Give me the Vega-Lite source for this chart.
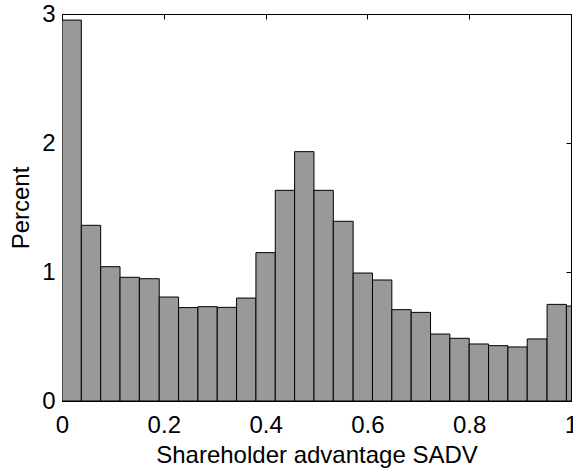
{
  "$schema": "https://vega.github.io/schema/vega-lite/v6.json",
  "width": 509,
  "height": 387,
  "autosize": "none",
  "padding": {"left": 62, "top": 14, "right": 2, "bottom": 71},
  "background": "white",
  "config": {
    "view": {"stroke": null},
    "axis": {
      "grid": false,
      "domainColor": "black",
      "tickColor": "black",
      "labelColor": "black",
      "titleColor": "black",
      "labelFont": "Liberation Sans",
      "titleFont": "Liberation Sans",
      "labelFontSize": 24,
      "titleFontSize": 24,
      "titleFontWeight": "normal",
      "tickSize": -5,
      "labelFlush": false,
      "labelOverlap": false
    }
  },
  "data": {
    "values": [
      {"bin_start": 0.000, "bin_end": 0.038, "percent": 2.953},
      {"bin_start": 0.038, "bin_end": 0.076, "percent": 1.362},
      {"bin_start": 0.076, "bin_end": 0.114, "percent": 1.041},
      {"bin_start": 0.114, "bin_end": 0.152, "percent": 0.959},
      {"bin_start": 0.152, "bin_end": 0.191, "percent": 0.948},
      {"bin_start": 0.191, "bin_end": 0.229, "percent": 0.806},
      {"bin_start": 0.229, "bin_end": 0.267, "percent": 0.724},
      {"bin_start": 0.267, "bin_end": 0.305, "percent": 0.731},
      {"bin_start": 0.305, "bin_end": 0.343, "percent": 0.726},
      {"bin_start": 0.343, "bin_end": 0.381, "percent": 0.798},
      {"bin_start": 0.381, "bin_end": 0.419, "percent": 1.150},
      {"bin_start": 0.419, "bin_end": 0.457, "percent": 1.633},
      {"bin_start": 0.457, "bin_end": 0.495, "percent": 1.933},
      {"bin_start": 0.495, "bin_end": 0.533, "percent": 1.633},
      {"bin_start": 0.533, "bin_end": 0.572, "percent": 1.393},
      {"bin_start": 0.572, "bin_end": 0.610, "percent": 0.992},
      {"bin_start": 0.610, "bin_end": 0.648, "percent": 0.938},
      {"bin_start": 0.648, "bin_end": 0.686, "percent": 0.708},
      {"bin_start": 0.686, "bin_end": 0.724, "percent": 0.687},
      {"bin_start": 0.724, "bin_end": 0.762, "percent": 0.519},
      {"bin_start": 0.762, "bin_end": 0.800, "percent": 0.486},
      {"bin_start": 0.800, "bin_end": 0.838, "percent": 0.442},
      {"bin_start": 0.838, "bin_end": 0.876, "percent": 0.429},
      {"bin_start": 0.876, "bin_end": 0.914, "percent": 0.419},
      {"bin_start": 0.914, "bin_end": 0.953, "percent": 0.481},
      {"bin_start": 0.953, "bin_end": 0.991, "percent": 0.749},
      {"bin_start": 0.991, "bin_end": 1.029, "percent": 0.736}
    ]
  },
  "layer": [
    {
      "mark": {"type": "bar", "fill": "#999999", "stroke": "black", "strokeWidth": 1, "clip": true},
      "encoding": {
        "x": {
          "field": "bin_start", "type": "quantitative",
          "scale": {"domain": [0, 1], "nice": false, "zero": false},
          "axis": {"values": [0, 0.2, 0.4, 0.6, 0.8, 1], "format": "~g", "title": "Shareholder advantage SADV", "labelPadding": 17, "titlePadding": 6}
        },
        "x2": {"field": "bin_end"},
        "y": {
          "field": "percent", "type": "quantitative",
          "scale": {"domain": [0, 3], "nice": false},
          "axis": {"values": [0, 1, 2, 3], "format": "~g", "title": "Percent", "labelPadding": 12, "titlePadding": 8}
        },
        "y2": {"datum": 0}
      }
    },
    {
      "mark": {"type": "bar", "opacity": 0, "clip": true},
      "encoding": {
        "x": {
          "field": "bin_start", "type": "quantitative",
          "scale": {"domain": [0, 1], "nice": false, "zero": false},
          "axis": {"orient": "top", "values": [0, 0.2, 0.4, 0.6, 0.8, 1], "labels": false, "title": null}
        },
        "x2": {"field": "bin_end"},
        "y": {
          "field": "percent", "type": "quantitative",
          "scale": {"domain": [0, 3], "nice": false},
          "axis": {"orient": "right", "values": [0, 1, 2, 3], "labels": false, "title": null}
        },
        "y2": {"datum": 0}
      }
    }
  ],
  "resolve": {"axis": {"x": "independent", "y": "independent"}}
}
